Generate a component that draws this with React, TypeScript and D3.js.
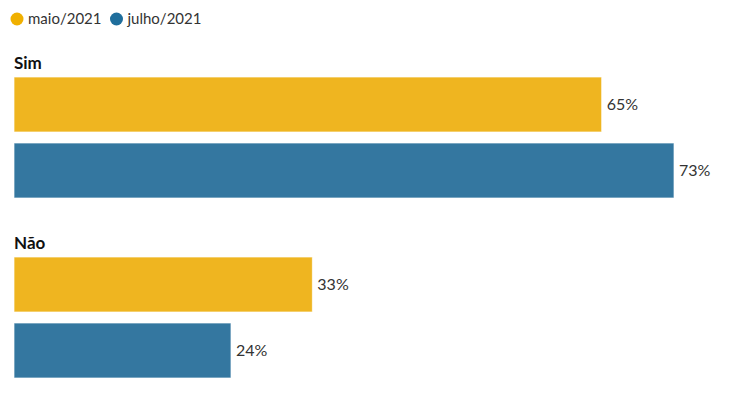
import React, { useRef, useEffect } from "react";
import * as d3 from "d3";

const categories = ["Sim", "Não"];
const seriesNames = ["maio/2021", "julho/2021"];
const maio = [65, 33];
const julho = [73, 24];
const colors = ["#efb520", "#3477a0"];
const legendColors = ["#f0b000", "#1f6e9c"];

const App = () => {
	const chartRef = useRef<SVGSVGElement>(null);

	useEffect(() => {
		document.body.style.margin = "0";
		const width = 754;
		const height = 397;
		const font = "Lato, 'Open Sans', sans-serif";

		const svg = d3.select(chartRef.current)
			.attr("width", width)
			.attr("height", height)
			.style("font-family", font);
		svg.selectAll("*").remove();

		const rows = categories.map((c, i) => ({ cat: c, values: [maio[i], julho[i]] }));

		// scales
		const xScale = d3.scaleLinear().domain([0, 73]).range([14, 674]);
		const yGroup = d3.scaleBand().domain(categories).range([50, 410]).paddingInner(0);
		const ySeries = d3.scaleBand().domain(seriesNames).range([27, 148]).paddingInner(11 / 66);

		// legend
		const legend = svg.append("g").attr("transform", "translate(0, 19)");
		let lx = 17;
		seriesNames.forEach((s, i) => {
			legend.append("circle").attr("cx", lx).attr("cy", 0).attr("r", 6.5).attr("fill", legendColors[i]);
			const t = legend.append("text")
				.attr("x", lx + 11)
				.attr("y", 0)
				.attr("dy", "0.35em")
				.attr("font-size", 15)
				.attr("fill", "#333")
				.text(s);
			lx += 11 + (t.node() as SVGTextElement).getComputedTextLength() + 15;
		});

		const groups = svg.selectAll(".group")
			.data(rows)
			.enter()
			.append("g")
			.attr("class", "group")
			.attr("transform", d => `translate(0, ${yGroup(d.cat)})`);

		groups.append("text")
			.attr("x", 14)
			.attr("y", 19)
			.attr("font-size", 17)
			.attr("font-weight", "bold")
			.attr("fill", "#111")
			.text(d => d.cat);

		const bars = groups.selectAll(".bar")
			.data(d => d.values.map((v, i) => ({ v, s: seriesNames[i], i })))
			.enter();

		bars.append("rect")
			.attr("x", xScale(0))
			.attr("y", d => ySeries(d.s)!)
			.attr("width", d => xScale(d.v) - xScale(0))
			.attr("height", ySeries.bandwidth())
			.attr("fill", d => colors[d.i])
			.attr("stroke", "rgba(255,255,255,0.7)")
			.attr("stroke-width", 1);

		bars.append("text")
			.attr("x", d => xScale(d.v) + 5)
			.attr("y", d => ySeries(d.s)! + ySeries.bandwidth() / 2)
			.attr("dy", "0.35em")
			.attr("font-size", 16)
			.attr("fill", "#333")
			.text(d => `${d.v}%`);
	}, []);

	return <svg ref={chartRef}></svg>;
};

export default App;
